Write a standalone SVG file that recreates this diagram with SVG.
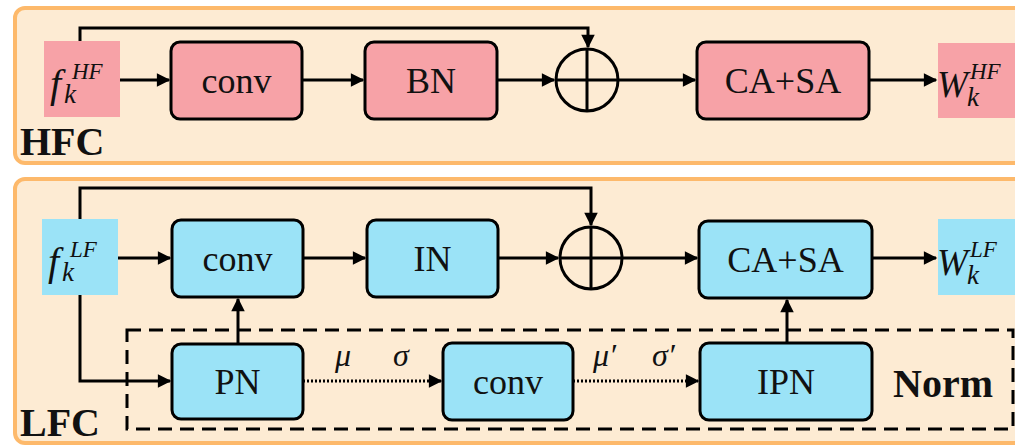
<svg xmlns="http://www.w3.org/2000/svg" width="1015" height="445" viewBox="0 0 1015 445">
<style>
.panel{fill:#FDEBD3;stroke:#FDB96B;stroke-width:4}
.hf{fill:#F7A2A7}
.lf{fill:#9BE3F7}
.box{stroke:#000;stroke-width:3}
text{font-family:"Liberation Serif","Times New Roman",serif}
.lbl{font-size:36px;fill:#111;text-anchor:middle}
.big{font-size:40px;font-weight:bold;fill:#111}
.m{font-style:italic;fill:#111}
.ln{fill:none;stroke:#000;stroke-width:3}
.dot{fill:none;stroke:#000;stroke-width:3;stroke-dasharray:2 2}
.dash{fill:none;stroke:#000;stroke-width:3;stroke-dasharray:14 8}
</style>
<defs>
<marker id="ah" viewBox="0 0 10 10" refX="9" refY="5" markerWidth="5" markerHeight="4.5" markerUnits="strokeWidth" orient="auto">
<path d="M0,0 L10,5 L0,10 z" fill="#000"/>
</marker>
</defs>
<rect class="panel" x="15" y="8" width="1010" height="155" rx="10"/>
<rect class="panel" x="15" y="179" width="1010" height="264" rx="10"/>
<text class="big" x="20" y="155">HFC</text>
<text class="big" x="20" y="436">LFC</text>
<rect class="dash" x="127" y="330" width="886" height="99"/>
<g id="hf_in">
<rect class="hf" x="44" y="41" width="76" height="76"/>
<text class="m" x="50" y="97" font-size="40">f</text>
<text class="m" x="64" y="103" font-size="27">k</text>
<text class="m" x="72" y="79" font-size="23">HF</text>
</g>
<g id="hf_conv"><rect class="hf box" x="171" y="42" width="131" height="77" rx="9"/><text class="lbl" x="236.5" y="93">conv</text></g>
<g id="hf_bn"><rect class="hf box" x="365" y="42" width="132" height="77" rx="9"/><text class="lbl" x="431" y="93">BN</text></g>
<g id="hf_add"><circle class="ln" cx="587" cy="80" r="31"/><path class="ln" d="M556,80 H618 M587,49 V111"/></g>
<g id="hf_att"><rect class="hf box" x="697" y="42" width="172" height="77" rx="9"/><text class="lbl" x="783" y="93">CA+SA</text></g>
<g id="hf_out">
<rect class="hf" x="938" y="43" width="80" height="75"/>
<text class="m" x="937" y="97" font-size="37">W</text>
<text class="m" x="967" y="106" font-size="27">k</text>
<text class="m" x="970" y="79" font-size="23">HF</text>
</g>
<g id="lf_in">
<rect class="lf" x="42" y="219" width="76" height="76"/>
<text class="m" x="48" y="275" font-size="40">f</text>
<text class="m" x="62" y="281" font-size="27">k</text>
<text class="m" x="70" y="257" font-size="23">LF</text>
</g>
<g id="lf_conv"><rect class="lf box" x="172" y="220" width="131" height="77" rx="9"/><text class="lbl" x="237.5" y="271">conv</text></g>
<g id="lf_in2"><rect class="lf box" x="367" y="220" width="131" height="77" rx="9"/><text class="lbl" x="432.5" y="271">IN</text></g>
<g id="lf_add"><circle class="ln" cx="591" cy="258" r="31"/><path class="ln" d="M560,258 H622 M591,227 V289"/></g>
<g id="lf_att"><rect class="lf box" x="699" y="221" width="173" height="77" rx="9"/><text class="lbl" x="785.5" y="272">CA+SA</text></g>
<g id="lf_out">
<rect class="lf" x="938" y="219" width="80" height="76"/>
<text class="m" x="937" y="275" font-size="37">W</text>
<text class="m" x="967" y="284" font-size="27">k</text>
<text class="m" x="970" y="257" font-size="23">LF</text>
</g>
<g id="pn"><rect class="lf box" x="172" y="344" width="131" height="75" rx="9"/><text class="lbl" x="237.5" y="394">PN</text></g>
<g id="nconv"><rect class="lf box" x="443" y="343" width="130" height="77" rx="9"/><text class="lbl" x="508" y="394">conv</text></g>
<g id="ipn"><rect class="lf box" x="700" y="343" width="172" height="77" rx="9"/><text class="lbl" x="786" y="394">IPN</text></g>
<g id="norm"><text class="big" x="893" y="397" font-size="34">Norm</text></g>
<g id="labels">
<text class="m" x="335" y="366" font-size="32">μ</text>
<text class="m" x="393" y="366" font-size="32">σ</text>
<text class="m" x="593" y="366" font-size="32">μ′</text>
<text class="m" x="652" y="366" font-size="32">σ′</text>
</g>
<g id="connectors">
<path class="ln" d="M120,80 H169" marker-end="url(#ah)"/>
<path class="ln" d="M302,80 H363" marker-end="url(#ah)"/>
<path class="ln" d="M497,80 H554" marker-end="url(#ah)"/>
<path class="ln" d="M80,41 V28 H588 V47" marker-end="url(#ah)"/>
<path class="ln" d="M618,80 H695" marker-end="url(#ah)"/>
<path class="ln" d="M869,80 H936" marker-end="url(#ah)"/>
<path class="ln" d="M118,258 H170" marker-end="url(#ah)"/>
<path class="ln" d="M303,258 H365" marker-end="url(#ah)"/>
<path class="ln" d="M498,258 H558" marker-end="url(#ah)"/>
<path class="ln" d="M80,219 V188 H591 V225" marker-end="url(#ah)"/>
<path class="ln" d="M622,258 H697" marker-end="url(#ah)"/>
<path class="ln" d="M872,258 H936" marker-end="url(#ah)"/>
<path class="ln" d="M80,295 V381 H170" marker-end="url(#ah)"/>
<path class="ln" d="M238,344 V299" marker-end="url(#ah)"/>
<path class="ln" d="M787,343 V300" marker-end="url(#ah)"/>
<path class="dot" d="M303,381 H441" marker-end="url(#ah)"/>
<path class="dot" d="M573,381 H698" marker-end="url(#ah)"/>
</g>
</svg>
